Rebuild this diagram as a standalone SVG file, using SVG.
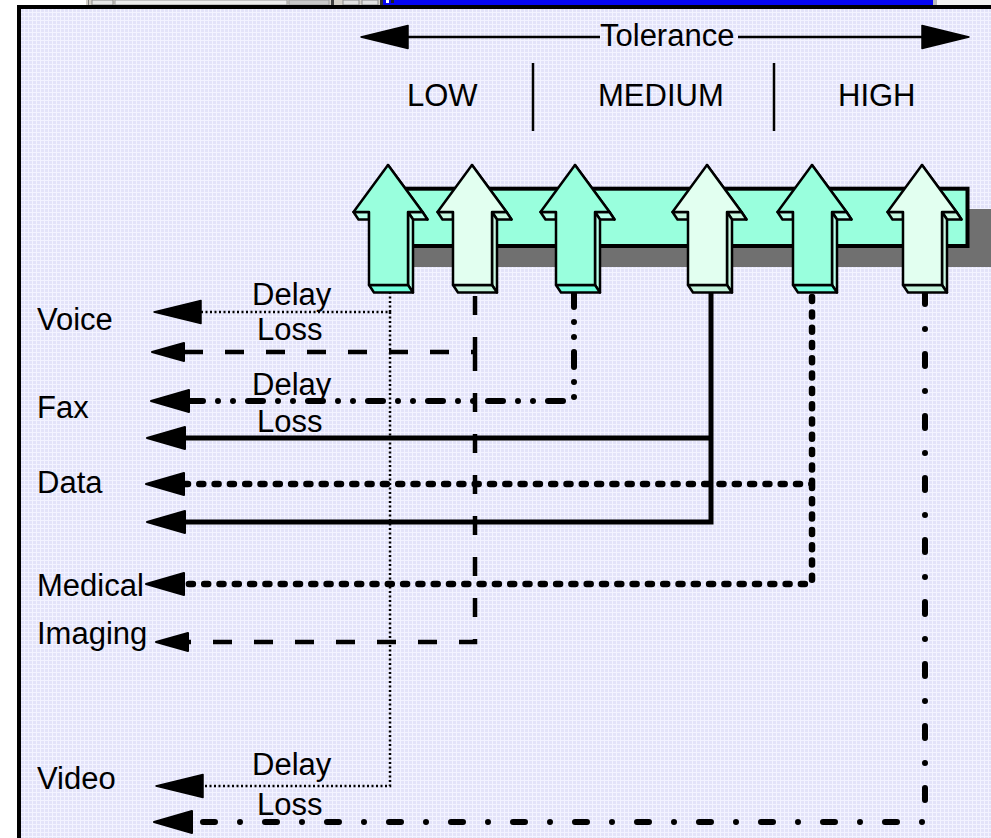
<svg xmlns="http://www.w3.org/2000/svg" width="991" height="838" viewBox="0 0 991 838">
<defs>
  <pattern id="grid" width="4" height="4" patternUnits="userSpaceOnUse">
    <rect width="4" height="4" fill="#e3e3f9"/>
    <rect width="4" height="1" fill="#f3f3ff"/>
    <rect width="1" height="4" fill="#f3f3ff"/>
  </pattern>
  <marker id="hd" markerUnits="userSpaceOnUse" viewBox="0 0 50 26" markerWidth="50" markerHeight="26" refX="1" refY="13" orient="auto-start-reverse">
    <path d="M1,1.5 L48,13 L1,24.5 Z" fill="#000" stroke="#000" stroke-width="1.5" stroke-linejoin="round"/>
  </marker>
  <marker id="hm" markerUnits="userSpaceOnUse" viewBox="0 0 42 26" markerWidth="42" markerHeight="26" refX="1" refY="13" orient="auto-start-reverse">
    <path d="M1,2 L39,13 L1,24 Z" fill="#000" stroke="#000" stroke-width="2" stroke-linejoin="round"/>
  </marker>
  <marker id="hs" markerUnits="userSpaceOnUse" viewBox="0 0 36 22" markerWidth="36" markerHeight="22" refX="1" refY="11" orient="auto-start-reverse">
    <path d="M1,2 L33,11 L1,20 Z" fill="#000" stroke="#000" stroke-width="2" stroke-linejoin="round"/>
  </marker>
  <g id="arr">
    <g stroke="#000" stroke-width="2.5" stroke-linejoin="round">
      <path d="M0,165 L5,172.5 L39.5,219.5 L34.5,212 Z" style="fill:var(--s)"/>
      <path d="M-34.5,212 L-19,212 L-19,219.5 L-29.5,219.5 Z" style="fill:var(--s)"/>
      <path d="M20,212 L34.5,212 L39.5,219.5 L25,219.5 Z" style="fill:var(--s)"/>
      <path d="M20,212 L25,219.5 L25,292.5 L20,285 Z" style="fill:var(--s)"/>
      <path d="M-19,285 L20,285 L25,292.5 L-14,292.5 Z" style="fill:var(--b)"/>
      <path d="M0,165 L34.5,212 L20,212 L20,285 L-19,285 L-19,212 L-34.5,212 Z" style="fill:var(--f)"/>
    </g>
  </g>
</defs>
<style>
  text { font-family: "Liberation Sans", Arial, sans-serif; font-size: 31px; fill: #000; }
  .mint { --f: #99ffdd; --s: #b8ffe9; --b: #70ffdc; }
  .pale { --f: #e2fff0; --s: #c8f7e0; --b: #c2f2da; }
  .conn path { fill: none; stroke: #000; }
  .delay { stroke-width: 2.5; stroke-dasharray: 2 2.5; }
  .loss { stroke-width: 4.5; stroke-dasharray: 19 22; }
  .dd { stroke-width: 6; stroke-linecap: round; stroke-dasharray: 15 15 0 15 0 15; }
  .solid { stroke-width: 5; }
  .dots { stroke-width: 6.5; stroke-linecap: round; stroke-dasharray: 4 11.3; }
  .dashdot { stroke-width: 6; stroke-linecap: round; stroke-dasharray: 12 25 0 25; }
</style>

<!-- window remnants at top -->
<g id="window-strip">
  <rect x="0" y="0" width="991" height="6" fill="#ffffff"/>
  <rect x="86" y="0" width="297" height="6" fill="#d4d0c8"/>
  <rect x="88" y="0" width="1" height="6" fill="#808080"/>
  <rect x="92" y="0" width="21" height="5" fill="#e6e6e6" stroke="#8a8a8a" stroke-width="1"/>
  <rect x="115" y="0" width="172" height="5" fill="#ececec" stroke="#9a9a9a" stroke-width="1"/>
  <rect x="289" y="0" width="40" height="5" fill="#c8c8c8" stroke="#9a9a9a" stroke-width="1"/>
  <rect x="331" y="0" width="3" height="6" fill="#404040"/>
  <rect x="343" y="0" width="16" height="5" fill="#e0e0e0" stroke="#8a8a8a" stroke-width="1"/>
  <rect x="362" y="0" width="16" height="5" fill="#e0e0e0" stroke="#8a8a8a" stroke-width="1"/>
  <rect x="380" y="0" width="3" height="6" fill="#303030"/>
  <rect x="383" y="0" width="550" height="6" fill="#0505f2"/>
  <rect x="386" y="0" width="3" height="3" fill="#ffffff"/>
  <rect x="391" y="0" width="3" height="3" fill="#202020"/>
  <rect x="933" y="0" width="4" height="6" fill="#b8b8b8"/>
  <rect x="937" y="0" width="54" height="6" fill="#f2f2f2"/>
</g>

<!-- frame -->
<rect id="frame" x="19" y="7" width="1000" height="860" fill="url(#grid)" stroke="#000" stroke-width="4"/>

<!-- tolerance scale -->
<g id="tolerance">
  <line x1="406" y1="37" x2="600" y2="37" stroke="#000" stroke-width="2.5"/>
  <line x1="738" y1="37" x2="924" y2="37" stroke="#000" stroke-width="2.5"/>
  <path d="M361,37 L408,25.5 L408,48.5 Z" fill="#000" stroke="#000" stroke-width="1.5" stroke-linejoin="round"/>
  <path d="M969,37 L922,25.5 L922,48.5 Z" fill="#000" stroke="#000" stroke-width="1.5" stroke-linejoin="round"/>
  <text x="600" y="46">Tolerance</text>
</g>
<g id="levels">
  <text x="407" y="106">LOW</text>
  <line x1="533" y1="63" x2="533" y2="131" stroke="#000" stroke-width="2.5"/>
  <text x="598" y="106">MEDIUM</text>
  <line x1="774" y1="63" x2="774" y2="131" stroke="#000" stroke-width="2.5"/>
  <text x="838" y="106">HIGH</text>
</g>

<!-- band -->
<g id="band">
  <rect x="396" y="209" width="610" height="58" fill="#707070"/>
  <rect x="374" y="188.7" width="593.5" height="57.3" fill="#99ffdd" stroke="#000" stroke-width="4"/>
</g>

<!-- connectors -->
<g id="connectors" class="conn">
  <path class="delay" d="M201,312 H390 V292 M390,312 V786 H203" marker-start="url(#hd)" marker-end="url(#hd)"/>
  <path class="loss" d="M184,352 H475 V292 M475,352 V642 H188" marker-start="url(#hs)" marker-end="url(#hs)"/>
  <path class="dd" d="M574,292 V401 H189" marker-end="url(#hm)"/>
  <path class="solid" d="M185,438 H711 V292 M711,438 V522 H185" marker-start="url(#hm)" marker-end="url(#hm)"/>
  <path class="dots" d="M184,484 H812 V292 M812,484 V584 H184" marker-start="url(#hm)" marker-end="url(#hm)"/>
  <path class="dashdot" d="M925,292 V822 H192" marker-end="url(#hm)"/>
</g>

<!-- arrows -->
<g id="arrow-1" class="mint"><use href="#arr" x="388"/></g>
<g id="arrow-2" class="pale"><use href="#arr" x="472"/></g>
<g id="arrow-3" class="mint"><use href="#arr" x="575"/></g>
<g id="arrow-4" class="pale"><use href="#arr" x="707"/></g>
<g id="arrow-5" class="mint"><use href="#arr" x="812"/></g>
<g id="arrow-6" class="pale"><use href="#arr" x="922"/></g>

<!-- labels -->
<g id="label-voice"><text x="37" y="330">Voice</text></g>
<g id="label-fax"><text x="37" y="418">Fax</text></g>
<g id="label-data"><text x="37" y="493">Data</text></g>
<g id="label-medical"><text x="37" y="596">Medical</text></g>
<g id="label-imaging"><text x="37" y="644">Imaging</text></g>
<g id="label-video"><text x="37" y="789">Video</text></g>

<g id="edge-labels">
  <text x="252" y="305">Delay</text>
  <text x="257" y="340">Loss</text>
  <text x="252" y="395">Delay</text>
  <text x="257" y="432">Loss</text>
  <text x="252" y="775">Delay</text>
  <text x="257" y="815">Loss</text>
</g>
</svg>
